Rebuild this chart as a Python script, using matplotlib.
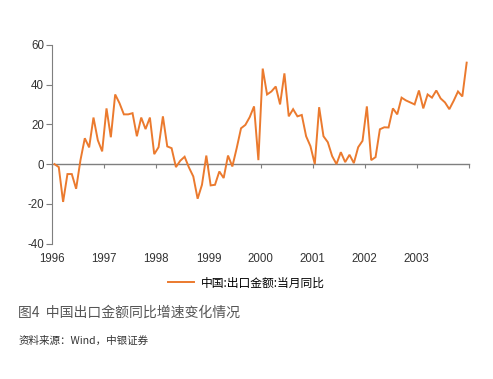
import numpy as np
import matplotlib
matplotlib.use("Agg")
import matplotlib.pyplot as plt

plt.rcParams['font.family'] = ['Liberation Sans', 'Noto Sans CJK SC', 'DejaVu Sans']
plt.rcParams['axes.unicode_minus'] = False

# 中国:出口金额:当月同比 (%), 1996-01 .. 2003-12
yoy = [0, -1.5, -19, -5, -5, -12.4, 2, 13, 8.4, 23.4, 12, 6.4,
       28, 13.5, 35, 30.6, 25, 25, 25.6, 14, 23.4, 17.6, 23.4, 5,
       8.5, 24, 8.9, 8, -1.5, 1.7, 3.7, -1.7, -6.2, -17.4, -10.4, 4.3,
       -10.7, -10.4, -3.7, -7, 4.3, -1.2, 8, 18, 19.7, 23.6, 29, 2,
       48, 35, 36.5, 39, 30, 45.6, 24, 27.6, 24, 24.7, 14, 9,
       0, 28.6, 14, 11, 4, 0, 6, 1, 4.7, 0.5, 8.5, 11.7,
       29, 2, 3.5, 17.5, 18.5, 18.4, 28, 25, 33.4, 32, 31, 30,
       37, 28, 35, 33.4, 37, 33, 31, 27.6, 31.8, 36.5, 34, 51]
start_year = 1996
years = list(range(1996, 2005))
year_labels = [str(y) for y in years[:-1]] + ['']
yticks = [-40, -20, 0, 20, 40, 60]

x = start_year + (np.arange(len(yoy)) + 0.5) / 12

fig = plt.figure(figsize=(4.93, 3.79), dpi=100)
ax = fig.add_axes([0.106, 0.357, 0.845, 0.525])

ax.plot(x, yoy, color='#EB7A2E', lw=1.4, label='中国:出口金额:当月同比',
        solid_joinstyle='miter', zorder=3)

ax.set_xlim(1996, 2004)
ax.set_ylim(-40, 60)

gray = '#7f7f7f'
for s in ['top', 'right']:
    ax.spines[s].set_visible(False)
ax.spines['left'].set_color(gray)
ax.spines['bottom'].set_position(('data', 0))
ax.spines['bottom'].set_color(gray)
ax.spines['bottom'].set_linewidth(1.0)

ax.set_yticks(yticks)
ax.tick_params(axis='y', colors=gray, length=4, width=0.8, labelsize=8.3,
               labelcolor='#333333', pad=2)
ax.set_xticks(years)
ax.tick_params(axis='x', colors=gray, length=3, width=0.8, labelbottom=False)

sec = ax.secondary_xaxis('bottom')
sec.set_xticks(years)
sec.set_xticklabels(year_labels)
sec.spines['bottom'].set_visible(False)
sec.tick_params(length=0, labelsize=8.3, labelcolor='#333333', pad=7)

fig.legend(loc='center', bbox_to_anchor=(0.5, 0.253), frameon=False,
           handlelength=2.2, handletextpad=0.6,
           prop={'family': ['Noto Sans CJK SC', 'DejaVu Sans'], 'size': 8.5})

fig.text(0.037, 0.174, '图4  中国出口金额同比增速变化情况', fontsize=10,
         color='#555555', family=['Noto Sans CJK SC', 'DejaVu Sans'], va='center')
fig.text(0.037, 0.1, '资料来源：Wind，中银证券', fontsize=7.6, color='#333333',
         family=['Noto Sans CJK SC', 'DejaVu Sans'], va='center')

fig.savefig('out.png', dpi=100)
